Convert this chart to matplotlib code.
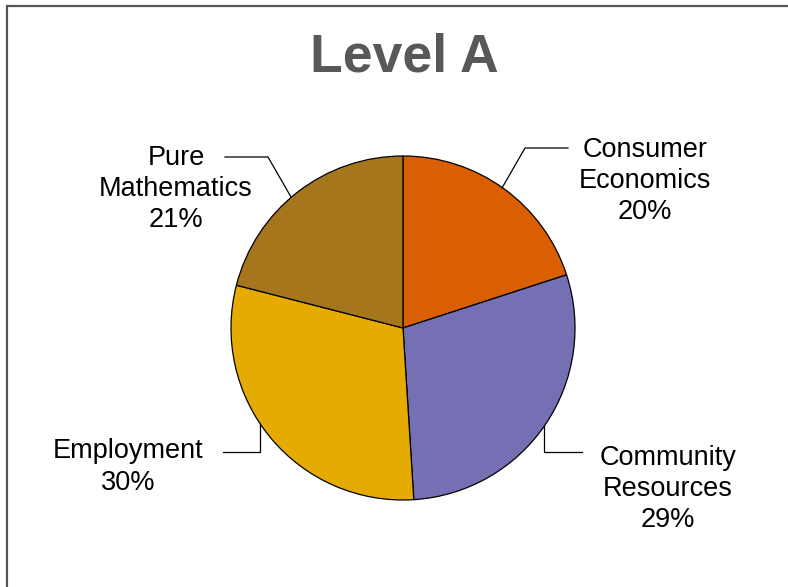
import matplotlib
matplotlib.use("Agg")
import matplotlib.pyplot as plt
from matplotlib.patches import Rectangle

# ---- data ----
CATEGORIES = ["Consumer\nEconomics", "Community\nResources", "Employment", "Pure\nMathematics"]
SHARES = [20, 29, 30, 21]
COLORS = ["#D95F02", "#7570B3", "#E6AB02", "#A6761D"]
TITLE = "Level A"

W, H = 788, 587
plt.rcParams["font.family"] = ["Liberation Sans", "DejaVu Sans"]

fig = plt.figure(figsize=(W / 100, H / 100), dpi=100)
ax = fig.add_axes([0, 0, 1, 1])

def Y(py):
    # pixel row (top-down) -> data y
    return H - py

cx, cy, r = 403, Y(328), 172
ax.pie(SHARES, colors=COLORS, startangle=90, counterclock=False,
       center=(cx, cy), radius=r, frame=True,
       wedgeprops=dict(edgecolor="black", linewidth=0.9))
ax.set_xlim(0, W)
ax.set_ylim(0, H)
ax.axis("off")

# frame around the chart (runs off right/bottom edge)
fig.patches.append(Rectangle((7 / W, -0.1), 1.2, 1 - 6 / H + 0.1,
                             transform=fig.transFigure, fill=False,
                             edgecolor="#555555", linewidth=1.6))

ax.text(404, Y(57), TITLE, ha="center", va="center", fontsize=38.5,
        fontweight="bold", color="#58585A")

lbl = dict(ha="center", va="center", fontsize=19.5, color="black", linespacing=1.26)
labels = [f"{c}\n{s}%" for c, s in zip(CATEGORIES, SHARES)]
ax.text(645, Y(181), labels[0], **lbl)
ax.text(668, Y(489), labels[1], **lbl)
ax.text(128, Y(467), labels[2], **lbl)
ax.text(176, Y(189), labels[3], **lbl)

lk = dict(color="black", linewidth=0.9)
ax.plot([502, 525, 568], [Y(188), Y(148), Y(148)], **lk)
ax.plot([544, 544, 582], [Y(426), Y(452), Y(452)], **lk)
ax.plot([260, 260, 223], [Y(424), Y(452), Y(452)], **lk)
ax.plot([291, 268, 225], [Y(197), Y(157), Y(157)], **lk)

fig.savefig("out.png", dpi=100)
